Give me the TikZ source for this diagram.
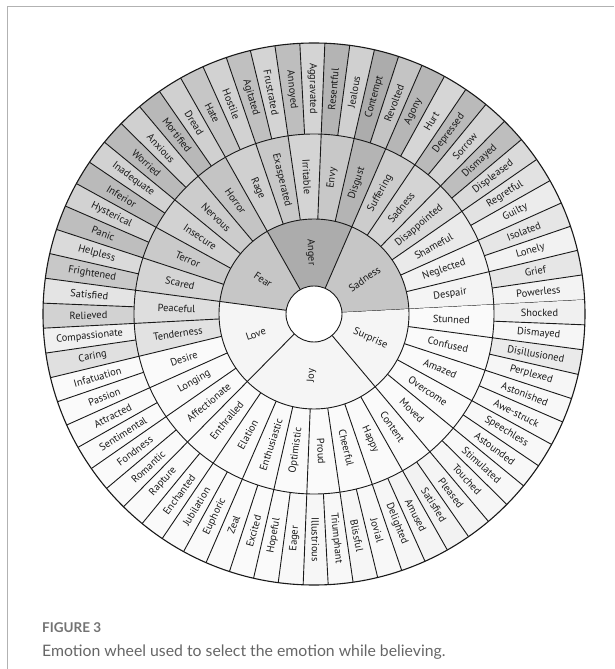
\documentclass[tikz,border=0pt]{standalone}
\usepackage{fontspec}
\usepackage{tikz}
\newfontfamily\wheelfont{PT Sans}
\newfontfamily\capfont{Lato}

\begin{document}
\begin{tikzpicture}[x=1pt,y=1pt,
  lbl/.style={font=\wheelfont\fontsize{10.4}{12}\selectfont, text=black!90, inner sep=0pt},
  edge/.style={draw=black!90, line width=0.9pt}]
  \useasboundingbox (-314,-355) rectangle (300,314);
  % frame of the figure box
  \draw[black!30, line width=1pt] (300,307) -- (-306,307) -- (-306,-355);
  \pgfmathsetmacro\du{360/68}

  % outer ring: 68 cells
  \foreach \word/\g [count=\i] in {Powerless/243, Grief/230, Lonely/242, Isolated/230, Guilty/236, Regretful/226, Displeased/218, Dismayed/190, Sorrow/212, Depressed/186, Hurt/214, Agony/182, Revolted/196, Contempt/172, Jealous/208, Resentful/180, Aggravated/212, Annoyed/190, Frustrated/212, Agitated/192, Hostile/210, Hate/198, Dread/208, Mortified/184, Anxious/208, Worried/186, Inadequate/210, Inferior/186, Hysterical/210, Panic/190, Helpless/218, Frightened/200, Satisfied/228, Relieved/210, Compassionate/240, Caring/224, Infatuation/250, Passion/250, Attracted/250, Sentimental/250, Fondness/250, Romantic/250, Rapture/250, Enchanted/250, Jubilation/250, Euphoric/250, Zeal/250, Excited/250, Hopeful/250, Eager/248, Illustrious/246, Triumphant/248, Blissful/246, Jovial/248, Delighted/246, Amused/244, Satisfied/242, Pleased/244, Touched/246, Stimulated/248, Astounded/248, Speechless/248, Awe-struck/248, Astonished/248, Perplexed/246, Disillusioned/234, Dismayed/246, Shocked/240} {
    \pgfmathsetmacro\angA{3+(\i-1)*\du}
    \pgfmathsetmacro\angB{\angA+\du}
    \pgfmathsetmacro\angM{\angA+\du/2}
    \pgfmathsetmacro\rot{ifthenelse(and(\angM>90,\angM<270),\angM-180,\angM)}
    \fill[fill={rgb,255:red,\g;green,\g;blue,\g}] (\angA:180) arc[start angle=\angA, end angle=\angB, radius=180]
      -- (\angB:271) arc[start angle=\angB, end angle=\angA, radius=271] -- cycle;
    \draw[edge] (\angA:180) -- (\angA:271);
    \node[lbl, rotate=\rot] (out\i) at (\angM:225.5) {\word};
  }

  % middle ring: 34 cells
  \foreach \word/\g [count=\i] in {Despair/244, Neglected/242, Shameful/234, Disappointed/218, Sadness/212, Suffering/204, Disgust/180, Envy/200, Irritable/212, Exasperated/200, Rage/208, Horror/196, Nervous/204, Insecure/210, Terror/202, Scared/212, Peaceful/222, Tenderness/226, Desire/250, Longing/250, Affectionate/250, Enthralled/250, Elation/250, Enthusiastic/250, Optimistic/250, Proud/250, Cheerful/250, Happy/250, Content/250, Moved/250, Overcome/250, Amazed/250, Confused/250, Stunned/250} {
    \pgfmathsetmacro\angA{3+(\i-1)*2*\du}
    \pgfmathsetmacro\angB{\angA+2*\du}
    \pgfmathsetmacro\angM{\angA+\du}
    \pgfmathsetmacro\rot{ifthenelse(and(\angM>90,\angM<270),\angM-180,\angM)}
    \fill[fill={rgb,255:red,\g;green,\g;blue,\g}] (\angA:95) arc[start angle=\angA, end angle=\angB, radius=95]
      -- (\angB:180) arc[start angle=\angB, end angle=\angA, radius=180] -- cycle;
    \draw[edge] (\angA:95) -- (\angA:180);
    \node[lbl, rotate=\rot] (mid\i) at (\angM:137.5) {\word};
  }

  % core ring: six basic emotions
  \foreach \word/\from/\to/\g [count=\i] in {Sadness/0/12/198, Anger/12/22/172, Fear/22/32/198, Love/32/42/245, Joy/42/58/245, Surprise/58/68/245} {
    \pgfmathsetmacro\angA{3+\from*\du}
    \pgfmathsetmacro\angB{3+\to*\du}
    \pgfmathsetmacro\angM{(\angA+\angB)/2}
    \pgfmathsetmacro\rot{ifthenelse(and(\angM>90,\angM<270),\angM-180,\angM)}
    \fill[fill={rgb,255:red,\g;green,\g;blue,\g}] (\angA:28) arc[start angle=\angA, end angle=\angB, radius=28]
      -- (\angB:95) arc[start angle=\angB, end angle=\angA, radius=95] -- cycle;
    \draw[edge] (\angA:28) -- (\angA:95);
    \node[lbl, rotate=\rot] (core\i) at (\angM:61.5) {\word};
  }

  % ring outlines
  \draw[edge] (0,0) circle[radius=95];
  \draw[edge] (0,0) circle[radius=180];
  \draw[edge, line width=1.1pt] (0,0) circle[radius=271];
  \filldraw[edge, fill=white] (0,0) circle[radius=28];

  % caption
  \node[anchor=west, inner sep=0pt, font=\capfont\bfseries\fontsize{13.5}{15}\selectfont, text=black!55] (figno) at (-272,-314) {FIGURE 3};
  \node[anchor=west, inner sep=0pt, font=\capfont\fontsize{15.8}{18}\selectfont, text=black!60] (caption) at (-272,-338) {Emotion wheel used to select the emotion while believing.};
\end{tikzpicture}
\end{document}
